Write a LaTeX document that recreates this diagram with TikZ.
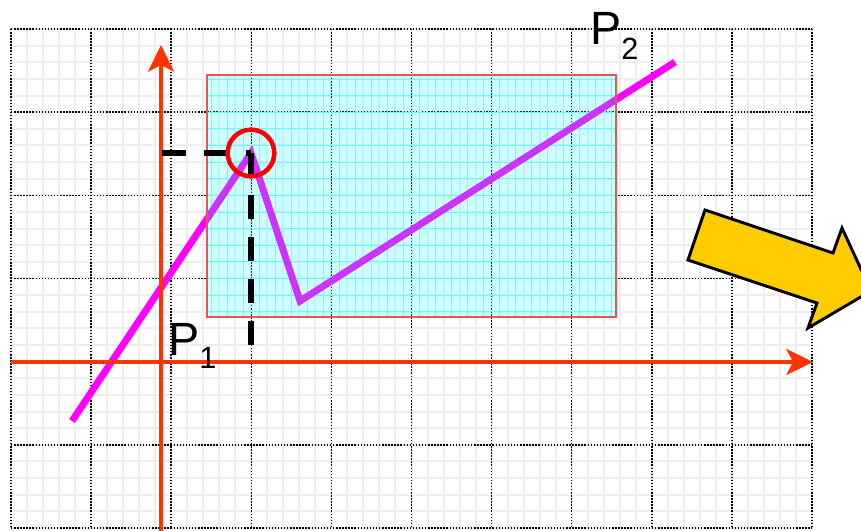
\documentclass[tikz,border=0pt]{standalone}
\usepackage{fontspec}
\setmainfont{Liberation Sans}
\usepackage{xcolor}
\usetikzlibrary{arrows.meta}
\definecolor{axisred}{HTML}{FF3300}
\definecolor{curvemag}{HTML}{FF00FF}
\definecolor{winred}{HTML}{F05050}
\definecolor{wincyan}{HTML}{00FFFF}
\definecolor{ringred}{HTML}{FF0000}
\definecolor{arrowyellow}{HTML}{FFCC00}
\tikzset{
  minorline/.style={
    draw=gray!13,
    line width=1.5pt
  },
  majorline/.style={
    draw=black,
    line width=1.1pt,
    dash pattern=on 1.1pt off 1.2pt
  },
  fineline/.style={
    draw=wincyan!50,
    line width=0.7pt
  },
  axis/.style={
    draw=axisred,
    line width=2.3pt,
    -{Stealth[length=20pt,width=19.5pt,inset=5pt]}
  },
  curve/.style={
    draw=curvemag,
    line width=5.2pt,
    line join=miter
  },
  window/.style={
    draw=winred,
    line width=0.8pt,
    fill=wincyan,
    fill opacity=0.2
  },
  guide/.style={
    draw=black,
    line width=3.9pt,
    dash pattern=on 18pt off 13.5pt
  },
  marker/.style={
    draw=ringred,
    line width=3.4pt,
    circle,
    minimum size=35pt,
    inner sep=0pt
  },
  ptlabel/.style={
    font=\fontsize{35}{35}\selectfont,
    inner sep=0pt,
    anchor=base west
  },
  bigarrow/.style={
    draw=black,
    line width=2.2pt,
    fill=arrowyellow,
    line join=miter
  }
}

\begin{document}
\begin{tikzpicture}[x=0.75pt, y=-0.75pt]
  \useasboundingbox (0,0) rectangle (861,531);
  \clip (0,0) rectangle (861,531);

  \foreach \i in {0,...,50}
    \draw[minorline] ({11+\i*16.02},29) -- ({11+\i*16.02},528);
  \foreach \j in {0,...,30}
    \draw[minorline] (11,{29+\j*16.633}) -- (812,{29+\j*16.633});
  \foreach \i in {0,...,10}
    \draw[majorline] ({11+\i*80.1},29) -- ({11+\i*80.1},528);
  \foreach \j in {0,...,6}
    \draw[majorline] (11,{29+\j*83.17}) -- (812,{29+\j*83.17});

  \begin{scope}
    \clip (207,75) rectangle (616,317);
    \foreach \i in {0,...,25}
      \draw[fineline] ({211+\i*16.02},75) -- ({211+\i*16.02},317);
    \foreach \j in {0,...,15}
      \draw[fineline] (207,{79+\j*16.633}) -- (616,{79+\j*16.633});
  \end{scope}

  \coordinate (start) at (72,421);
  \coordinate (apex) at (251,153);
  \coordinate (dip) at (300,301);
  \coordinate (end) at (675,62);
  \draw[curve] (start) -- (apex) -- (dip) -- (end);

  \draw[window] (207,75) rectangle (616,317);

  \coordinate (ybottom) at (161,531);
  \coordinate (ytop) at (161,45);
  \coordinate (xleft) at (11,362);
  \coordinate (xright) at (813,362);
  \draw[axis] (ybottom) -- (ytop);
  \draw[axis] (xleft) -- (xright);

  \coordinate (yproj) at (162,153);
  \coordinate (xproj) at (251,362);
  \draw[guide] (yproj) -- (apex);
  \draw[guide] (apex) -- (xproj);

  \node[marker] (ring) at (apex) {};

  \node[ptlabel] (p1) at (168,355) {P\raisebox{-10pt}{\fontsize{23}{23}\selectfont 1}};
  \node[ptlabel] (p2) at (590,45) {P\raisebox{-11pt}{\fontsize{23}{23}\selectfont 2}};

  \draw[bigarrow] (705,210) -- (833,253) -- (842,228) -- (871,291)
    -- (808,328) -- (817,303) -- (688,260) -- cycle;
\end{tikzpicture}
\end{document}
